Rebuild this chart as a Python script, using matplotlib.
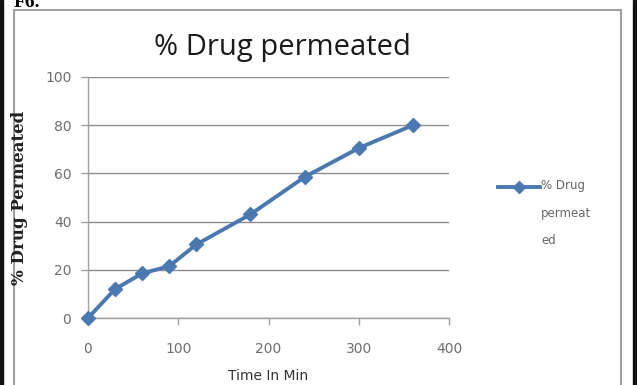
import matplotlib.pyplot as plt
from matplotlib.patches import Rectangle
from matplotlib.lines import Line2D

# Cumulative drug permeation over time
time_min = [0, 30, 60, 90, 120, 180, 240, 300, 360]
pct_permeated = [0, 12, 18.5, 21.5, 30.5, 43, 58.5, 70.5, 80]

x_ticks = [0, 100, 200, 300, 400]
y_ticks = [0, 20, 40, 60, 80, 100]

linecol = '#4a78b0'
gridcol = '#8c8c8c'
tickcol = '#6e6e6e'

W, H = 637, 385
fig = plt.figure(figsize=(W / 100, H / 100), dpi=100)
fig.patch.set_facecolor('white')

# page frame and chart-area border
fig.patches.append(Rectangle((0, 0), 3 / W, 1, transform=fig.transFigure,
                             color='#111111', zorder=-2))
fig.patches.append(Rectangle((633 / W, 0), 4 / W, 1, transform=fig.transFigure,
                             color='#111111', zorder=-2))
fig.patches.append(Rectangle((14 / W, -0.05), 607 / W, 1.05 - 10 / H,
                             transform=fig.transFigure, facecolor='white',
                             edgecolor='#a0a0a0', linewidth=1.5, zorder=-1))
fig.text(14 / W, 1 + 6 / H, 'F6.', fontsize=14, fontweight='bold',
         family='Liberation Serif', va='top', ha='left')

ax = fig.add_axes([88 / W, 67 / H, 361 / W, 241 / H], zorder=1)
ax.patch.set_alpha(0)
ax.plot(time_min, pct_permeated, color=linecol, linewidth=2.8,
        marker='D', markersize=7.5, markerfacecolor=linecol,
        markeredgecolor=linecol, clip_on=False, zorder=3)

ax.set_xlim(0, 400)
ax.set_ylim(0, 100)
ax.set_xticks(x_ticks)
ax.set_yticks(y_ticks)
ax.grid(True, axis='y', color=gridcol, linewidth=1.0)
ax.set_axisbelow(True)
for s in ['top', 'right']:
    ax.spines[s].set_visible(False)
for s in ['left', 'bottom']:
    ax.spines[s].set_color('#a0a0a0')
    ax.spines[s].set_linewidth(1.0)
ax.tick_params(axis='both', colors='#a0a0a0', labelcolor=tickcol,
               labelsize=10, length=5, width=1.0, direction='out')
ax.tick_params(axis='x', pad=12)
ax.tick_params(axis='y', pad=7)

ax.set_xlabel('Time In Min', fontsize=10, color='#333333', labelpad=10)
ax.set_ylabel('% Drug Permeated', fontsize=12, fontweight='bold',
              family='DejaVu Serif', color='#222222')
ax.yaxis.set_label_coords((28 - 88) / 361, 0.5)

fig.text(282 / W, 1 - 48 / H, '% Drug permeated', fontsize=21,
         ha='center', va='center', color='#1a1a1a', family='Open Sans')

# legend key
ky = 1 - 187 / H
fig.add_artist(Line2D([498 / W, 540 / W], [ky, ky],
                      transform=fig.transFigure, color=linecol, linewidth=2.8))
fig.add_artist(Line2D([519 / W], [ky], transform=fig.transFigure,
                      color=linecol, marker='D', markersize=6.5, linestyle='none'))
fig.text(541 / W, 1 - 179 / H, '% Drug\npermeat\ned', fontsize=8.5,
         color='#666666', va='top', ha='left', linespacing=2.45)

fig.savefig('out.png', dpi=100, facecolor='white')
